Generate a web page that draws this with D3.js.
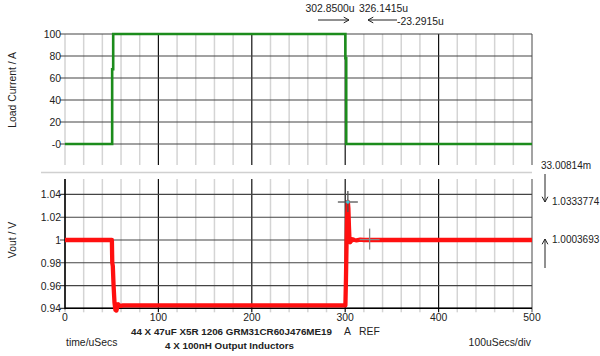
<!DOCTYPE html>
<html><head><meta charset="utf-8">
<script src="https://cdn.jsdelivr.net/npm/d3@7"></script>
<style>body{margin:0;background:#fff}svg{display:block;font-family:"Liberation Sans",Arial,sans-serif}</style>
</head><body><svg id="c" width="600" height="356"></svg>
<script>
// ---- data ----
const xTicks = [0, 100, 200, 300, 400, 500];
const xMinor = [20, 40, 60, 80, 120, 140, 160, 180, 220, 240, 260, 280, 320, 340, 360, 380, 420, 440, 460, 480];
const topTicks = [0, 20, 40, 60, 80, 100];
const topTickLabels = ["-0", "20", "40", "60", "80", "100"];
const botTicks = [0.94, 0.96, 0.98, 1.0, 1.02, 1.04];
const botTickLabels = ["0.94", "0.96", "0.98", "1", "1.02", "1.04"];
const currentT = [0, 50.5, 50.5, 51.6, 51.6, 300.2, 300.2, 301.1, 301.1, 500];
const currentV = [0, 0, 68, 68, 100, 100, 78, 78, 0, 0];
const voutT = [0, 50.2, 50.6, 51.2, 52, 53, 54, 55, 56, 57, 58, 60, 62, 300.2, 300.8, 301.4, 302, 302.85, 303.4, 304, 304.6, 305.3, 306, 307, 308, 310, 312, 316, 320, 500];
const voutV = [1.0, 1.0, 0.98, 0.977, 0.96, 0.945, 0.9385, 0.938, 0.941, 0.9435, 0.9425, 0.9422, 0.9425, 0.9425, 0.965, 0.995, 1.02, 1.0334, 1.028, 1.012, 1.0, 0.998, 1.001, 0.9995, 1.0005, 1.0, 0.9997, 1.0003, 1.0, 1.0];
const cursorT = [302.85, 326.1415];
const cursorV = [1.0333774, 1.0003693];

// ---- layout ----
const svg = d3.select("#c");
const x = d3.scaleLinear().domain([0, 500]).range([65, 532]);
const yTop = d3.scaleLinear().domain([0, 100]).range([144, 34]);
const yBot = d3.scaleLinear().domain([0.94, 1.0]).range([308.3, 240]);
const topY0 = 34, topY1 = 165, botY0 = 179, botY1 = 308.3;

function grid(yScale, ticks, y0, y1, ext) {
  const g = svg.append("g");
  g.selectAll(".mn").data(xMinor).enter().append("line")
    .attr("x1", d => x(d)).attr("x2", d => x(d)).attr("y1", y0).attr("y2", y1 + ext)
    .attr("stroke", "#d4d4d4").attr("stroke-width", 1.5);
  g.selectAll(".mj").data(xTicks).enter().append("line")
    .attr("x1", d => x(d)).attr("x2", d => x(d)).attr("y1", y0).attr("y2", y1 + ext)
    .attr("stroke", (d) => d === 0 ? "#c8c8c8" : (d === 500 ? "#666" : "#111"))
    .attr("stroke-width", 1.2);
  g.selectAll(".h").data(ticks).enter().append("line")
    .attr("x1", 60).attr("x2", x(500)).attr("y1", d => yScale(d)).attr("y2", d => yScale(d))
    .attr("stroke", "#444").attr("stroke-width", 1.2);
}
grid(yTop, topTicks, topY0, topY1, 0);
grid(yBot, botTicks, botY0, botY1, 4);

// separator
svg.append("line").attr("x1", 41).attr("x2", 532).attr("y1", 172.5).attr("y2", 172.5)
  .attr("stroke", "#d0d0d0").attr("stroke-width", 1.5);

// bottom axes lines
svg.append("line").attr("x1", x(0)).attr("x2", x(0)).attr("y1", botY0).attr("y2", botY1 + 1)
  .attr("stroke", "#000").attr("stroke-width", 1.6);
svg.append("line").attr("x1", x(0)).attr("x2", x(500)).attr("y1", botY1).attr("y2", botY1)
  .attr("stroke", "#000").attr("stroke-width", 1.4);

function txt(s, xx, yy, anchor, extra) {
  const t = svg.append("text").attr("x", xx).attr("y", yy).attr("text-anchor", anchor || "start")
    .attr("fill", "#222").attr("font-size", "10.4px").text(s);
  if (extra) Object.entries(extra).forEach(([k, v]) => t.attr(k, v));
  return t;
}
topTicks.forEach((d, i) => txt(topTickLabels[i], 61, yTop(d) + 4, "end"));
botTicks.forEach((d, i) => txt(botTickLabels[i], 61, yBot(d) + 4, "end"));
xTicks.forEach(d => txt(String(d), x(d), 321, "middle"));

// axis titles
txt("Load Current / A", 16, 90, "middle", {transform: "rotate(-90,16,90)"});
txt("Vout / V", 16, 240, "middle", {transform: "rotate(-90,16,240)"});
txt("time/uSecs", 66, 346, "start");
txt("100uSecs/div", 531, 346, "end");
txt("44 X 47uF X5R 1206 GRM31CR60J476ME19", 131, 335, "start", {"font-weight": "bold", "font-size": "9.8px"});
txt("A", 344, 335, "start");
txt("REF", 359, 335, "start");
txt("4 X 100nH Output Inductors", 165, 349, "start", {"font-weight": "bold", "font-size": "9.8px"});

// traces
const lineTop = d3.line().x((d, i) => x(currentT[i])).y((d, i) => yTop(currentV[i]));
svg.append("path").attr("d", lineTop(currentT)).attr("fill", "none")
  .attr("stroke", "#1c8c1c").attr("stroke-width", 2.6);
const lineBot = d3.line().x((d, i) => x(voutT[i])).y((d, i) => yBot(voutV[i]));
svg.append("path").attr("d", lineBot(voutT)).attr("fill", "none")
  .attr("stroke", "#ff1010").attr("stroke-width", 4.3).attr("stroke-linejoin", "round");

// cursors
cursorT.forEach((t, i) => {
  const cx = x(t), cy = yBot(cursorV[i]);
  const col = i === 0 ? "#555" : "#888";
  svg.append("line").attr("x1", cx - 10).attr("x2", cx + 10).attr("y1", cy).attr("y2", cy).attr("stroke", col).attr("stroke-width", 1.3);
  svg.append("line").attr("x1", cx).attr("x2", cx).attr("y1", cy - 11).attr("y2", cy + 10).attr("stroke", col).attr("stroke-width", 1.3);
  if (i === 0) svg.append("circle").attr("cx", cx).attr("cy", cy).attr("r", 1.8).attr("fill", "#40c8d8");
});

// top annotations
txt("302.8500u", 305.5, 12, "start");
txt("326.1415u", 359, 12, "start");
txt("-23.2915u", 397, 25, "start");
function arrow(x1, y1, x2, y2) {
  svg.append("line").attr("x1", x1).attr("y1", y1).attr("x2", x2).attr("y2", y2).attr("stroke", "#222").attr("stroke-width", 1);
  const a = Math.atan2(y2 - y1, x2 - x1), L = 6, w = 0.5;
  svg.append("path").attr("d", `M${x2 - L * Math.cos(a - w)},${y2 - L * Math.sin(a - w)}L${x2},${y2}L${x2 - L * Math.cos(a + w)},${y2 - L * Math.sin(a + w)}`)
    .attr("fill", "none").attr("stroke", "#222").attr("stroke-width", 1);
}
arrow(318, 20, 349, 20);
arrow(397, 20, 368, 20);

// right annotations
txt("33.00814m", 541, 169, "start", {"font-size": "10px"});
txt("1.0333774", 552, 205, "start", {"font-size": "10px"});
txt("1.0003693", 552, 243, "start", {"font-size": "10px"});
arrow(545, 174, 545, 202);
arrow(545, 268, 545, 239);
</script></body></html>
